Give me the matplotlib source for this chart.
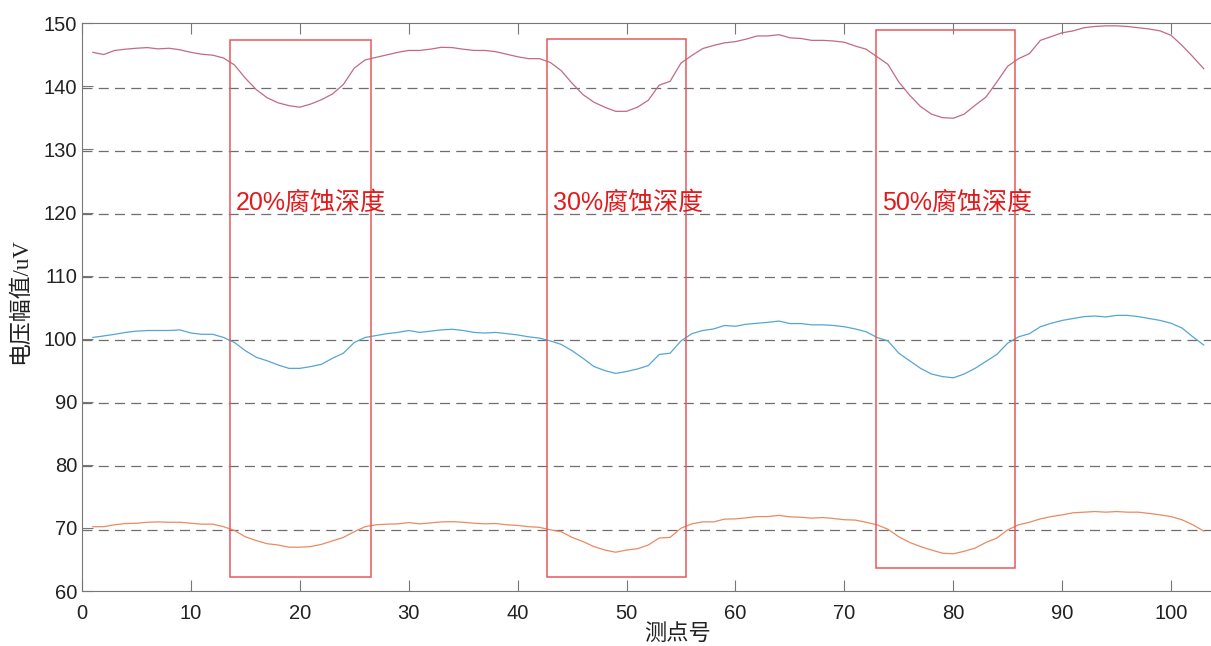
import numpy as np
import matplotlib.pyplot as plt
from matplotlib.patches import Rectangle

# measuring points 1..103
points = np.arange(1, 104)

top_vals = [
    145.4, 145.05, 145.7, 145.9, 146.05, 146.15, 145.95, 146.05, 145.8, 145.4,
    145.1, 144.95, 144.5, 143.4, 141.3, 139.5, 138.2, 137.4, 136.95, 136.7,
    137.2, 137.9, 138.8, 140.3, 142.9, 144.2, 144.6, 145.0, 145.4, 145.7,
    145.7, 145.9, 146.2, 146.15, 145.9, 145.7, 145.7, 145.5, 145.1, 144.7,
    144.4, 144.4, 143.8, 142.5, 140.5, 138.7, 137.5, 136.7, 136.05, 136.05,
    136.7, 137.8, 140.2, 140.8, 143.7, 144.9, 146.0, 146.5, 146.9, 147.1,
    147.5, 148.0, 148.0, 148.2, 147.7, 147.6, 147.3, 147.3, 147.2, 147.0,
    146.4, 145.9, 144.7, 143.5, 140.7, 138.6, 136.8, 135.6, 135.05, 134.95,
    135.6, 137.0, 138.3, 140.7, 143.2, 144.4, 145.2, 147.3, 147.9, 148.5,
    148.8, 149.3, 149.5, 149.6, 149.6, 149.5, 149.3, 149.1, 148.8, 148.1,
    146.5, 144.7, 142.8,
]

mid_vals = [
    100.2, 100.44, 100.7, 101.0, 101.2, 101.3, 101.3, 101.3, 101.4, 100.9,
    100.7, 100.7, 100.2, 99.4, 98.1, 97.06, 96.5, 95.84, 95.3, 95.3,
    95.58, 95.95, 96.9, 97.7, 99.4, 100.2, 100.5, 100.8, 101.0, 101.3,
    101.0, 101.2, 101.4, 101.5, 101.3, 101.0, 100.9, 101.0, 100.8, 100.6,
    100.3, 100.1, 99.65, 99.1, 98.1, 96.9, 95.6, 94.95, 94.5, 94.8,
    95.2, 95.74, 97.5, 97.7, 99.65, 100.8, 101.3, 101.55, 102.1, 101.97,
    102.3, 102.45, 102.6, 102.8, 102.4, 102.4, 102.2, 102.2, 102.1, 101.9,
    101.55, 101.1, 100.2, 99.65, 97.7, 96.5, 95.3, 94.4, 94.0, 93.8,
    94.4, 95.3, 96.4, 97.5, 99.3, 100.3, 100.8, 101.9, 102.45, 102.9,
    103.2, 103.5, 103.6, 103.45, 103.7, 103.7, 103.5, 103.2, 102.9, 102.45,
    101.7, 100.3, 99.0,
]

low_vals = [
    70.2, 70.2, 70.5, 70.7, 70.75, 70.9, 70.96, 70.9, 70.9, 70.75,
    70.6, 70.6, 70.2, 69.6, 68.6, 68.0, 67.5, 67.3, 66.95, 66.95,
    67.05, 67.4, 67.95, 68.5, 69.4, 70.2, 70.5, 70.6, 70.65, 70.85,
    70.65, 70.8, 70.96, 71.0, 70.9, 70.75, 70.65, 70.7, 70.5, 70.4,
    70.2, 70.1, 69.7, 69.4, 68.5, 67.85, 67.05, 66.5, 66.15, 66.5,
    66.7, 67.3, 68.4, 68.5, 69.96, 70.65, 70.96, 70.96, 71.4, 71.44,
    71.6, 71.8, 71.8, 72.0, 71.75, 71.7, 71.55, 71.65, 71.5, 71.3,
    71.25, 70.9, 70.5, 69.8, 68.6, 67.7, 67.05, 66.5, 66.0, 65.9,
    66.3, 66.8, 67.7, 68.4, 69.7, 70.5, 70.9, 71.44, 71.8, 72.07,
    72.4, 72.5, 72.6, 72.5, 72.6, 72.5, 72.5, 72.3, 72.07, 71.8,
    71.3, 70.5, 69.5,
]

# corrosion regions: (x start, x end, y bottom, y top) and their labels
box_x0 = [13.6, 42.7, 72.9]
box_x1 = [26.5, 55.5, 85.7]
box_y0 = [62.2, 62.3, 63.7]
box_y1 = [147.4, 147.5, 148.9]
box_labels = ['20%腐蚀深度', '30%腐蚀深度', '50%腐蚀深度']

grid_levels = [70, 80, 90, 100, 110, 120, 130, 140]

fig = plt.figure(figsize=(12.11, 6.46), dpi=100)
ax = fig.add_axes([0.0677, 0.0851, 0.9353, 0.8788])

for lvl in grid_levels:
    ax.axhline(lvl - 0.25, color='#6e6e6e', lw=0.9, ls=(0, (8, 5)), zorder=1)

ax.plot(points, top_vals, color='#c26a82', lw=0.9, zorder=3)
ax.plot(points, mid_vals, color='#55a6d4', lw=0.9, zorder=3)
ax.plot(points, low_vals, color='#ea8a62', lw=0.9, zorder=3)

for x0, x1, y0, y1, lab in zip(box_x0, box_x1, box_y0, box_y1, box_labels):
    ax.add_patch(Rectangle((x0, y0), x1 - x0, y1 - y0, fill=False,
                           edgecolor='#e8575c', lw=1.1, zorder=4))
    ax.text(x0 + 0.55, 121.5, lab, color='#e31a1c', fontsize=18, va='center',
            ha='left', family=['Liberation Sans', 'Noto Sans CJK SC'], zorder=5)

ax.set_xlim(0, 104)
ax.set_ylim(60, 150)
ax.set_xticks(np.arange(0, 101, 10))
ax.set_yticks(np.arange(60, 151, 10))
ax.tick_params(direction='in', length=8, color='#777777', labelcolor='#222222',
               labelsize=14.5, top=True, right=False)
ax.tick_params(axis='x', pad=9)
for lab in ax.get_xticklabels() + ax.get_yticklabels():
    lab.set_family('Liberation Sans')
for side in ['left', 'bottom', 'top']:
    ax.spines[side].set_color('#777777')
ax.spines['right'].set_visible(False)

ax.set_ylabel('电压幅值/uV', fontsize=16.5, family=['Liberation Serif', 'Noto Sans CJK SC'],
              color='#222222')
ax.yaxis.set_label_coords(-0.045, 0.51)
fig.text(678 / 1211, 1 - 633 / 646, '测点号', fontsize=16, ha='center', va='center',
         family=['Noto Sans CJK SC', 'DejaVu Sans'], color='#222222')

fig.savefig('out.png', dpi=100)
